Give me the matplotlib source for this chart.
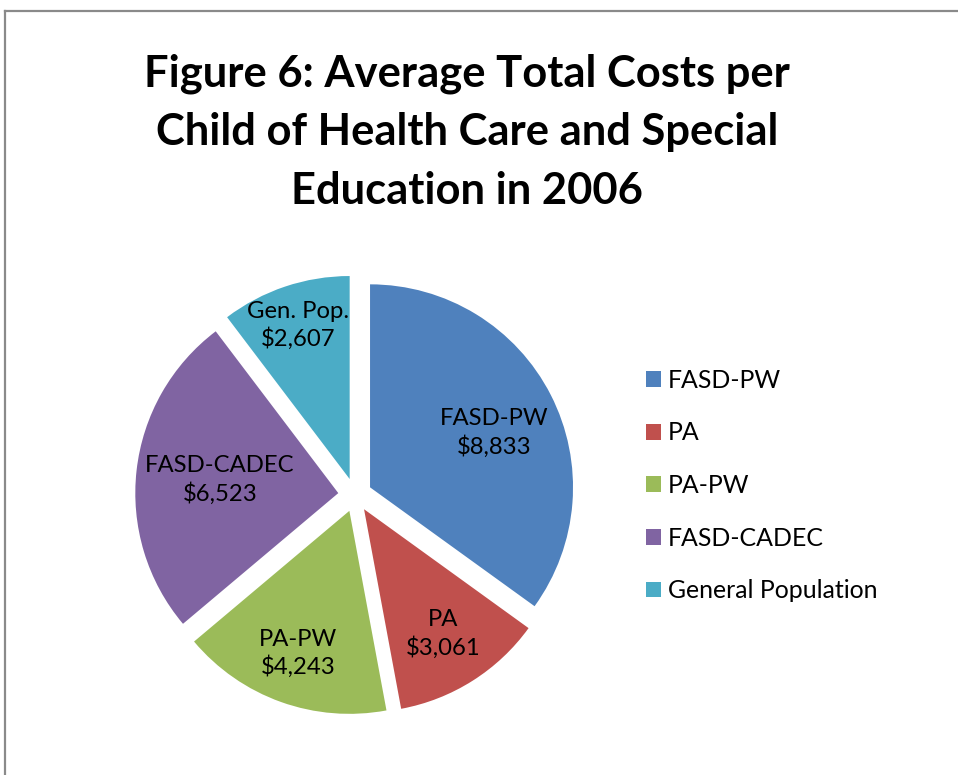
import matplotlib
matplotlib.use("Agg")
import matplotlib.pyplot as plt
from matplotlib.lines import Line2D
import numpy as np

# Data
groups = ["FASD-PW", "PA", "PA-PW", "FASD-CADEC", "General Population"]
short_names = ["FASD-PW", "PA", "PA-PW", "FASD-CADEC", "Gen. Pop."]
costs = [8833, 3061, 4243, 6523, 2607]
colors = ["#4F81BD", "#C0504D", "#9BBB59", "#8064A2", "#4BACC6"]
title_lines = ["Figure 6: Average Total Costs per",
               "Child of Health Care and Special",
               "Education in 2006"]

FONT = ["Lato", "DejaVu Sans"]
W, H = 958, 775
fig = plt.figure(figsize=(W / 100, H / 100), dpi=100)
fig.patch.set_facecolor("white")

# Chart-area border (top and left edges)
border = "#8a8a8a"
fig.add_artist(Line2D([5 / W, 1.0], [1 - 11 / H, 1 - 11 / H], color=border,
                      lw=1.6, transform=fig.transFigure))
fig.add_artist(Line2D([5 / W, 5 / W], [0.0, 1 - 11 / H], color=border,
                      lw=1.6, transform=fig.transFigure))

# Title, one line at a time
for line, base in zip(title_lines, [86, 145, 204]):
    fig.text(467 / W, 1 - base / H, line, ha="center", va="baseline",
             fontsize=31.3, fontweight="bold", family=FONT, color="black")

# Pie
ax = fig.add_axes([0.1163, 0.047, 0.5086, 0.6286])
wedges, _ = ax.pie(costs, colors=colors, startangle=90, counterclock=False,
                   explode=[0.083] * len(costs), radius=1.0,
                   wedgeprops=dict(linewidth=0))
ax.set_xlim(-1.2, 1.2)
ax.set_ylim(-1.2, 1.2)
ax.set_aspect("equal")
ax.axis("off")

# Data labels placed along each wedge's bisector
label_r = [0.75, 0.81, 0.83, 0.67, 0.88]
label_shift = [-3, 0, 0, 0, 0]
for w, name, val, r, s in zip(wedges, short_names, costs, label_r, label_shift):
    mid = np.deg2rad((w.theta1 + w.theta2) / 2 + s)
    ax.text(r * np.cos(mid), r * np.sin(mid), f"{name}\n${val:,}",
            ha="center", va="center", fontsize=17.2, family=FONT,
            color="black", linespacing=1.3)

# Legend
leg = ax.legend(wedges, groups, loc="center left",
                bbox_to_anchor=(646 / W, 1 - 485.5 / H),
                bbox_transform=fig.transFigure, frameon=False,
                prop=dict(family=FONT, size=17.9),
                handlelength=0.6, handleheight=0.6, handletextpad=0.28,
                labelspacing=1.19, borderpad=0, borderaxespad=0)

fig.savefig("out.png", dpi=100, facecolor="white")
